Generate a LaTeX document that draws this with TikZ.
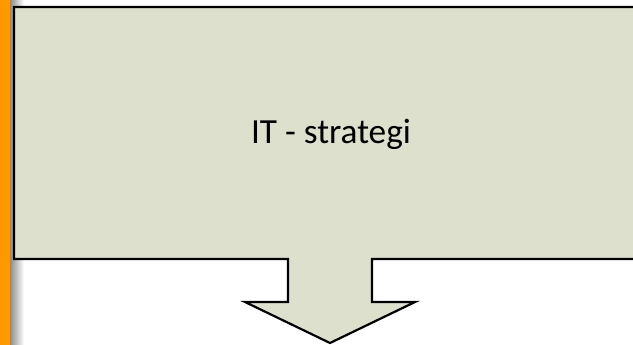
\documentclass[tikz,border=0pt]{standalone}
\usepackage{fontspec}
\setmainfont{Carlito}
\definecolor{boxfill}{RGB}{221,224,204}
\definecolor{orangebar}{RGB}{255,153,0}
\begin{document}
\begin{tikzpicture}[x=1pt,y=1pt,
  calloutbox/.style={fill=boxfill, draw=black, line width=2.2pt, line join=miter},
  titletext/.style={font=\fontsize{35.3}{42}\selectfont, text=black, inner sep=0pt}]
\useasboundingbox (0,0) rectangle (633,345);
\fill[white] (0,0) rectangle (633,345);
\shade[left color=black!45, right color=white] (10,0) rectangle (24,345);
\fill[orangebar] (0,0) rectangle (10,345);
\draw[calloutbox] (14,338) -- (640,338) -- (640,86) -- (372,86) -- (372,43) -- (415,43)
  -- (330,2) -- (245,43) -- (288,43) -- (288,86) -- (14,86) -- cycle;
\node[titletext] (title) at (331,211) {IT - strategi};
\end{tikzpicture}
\end{document}
